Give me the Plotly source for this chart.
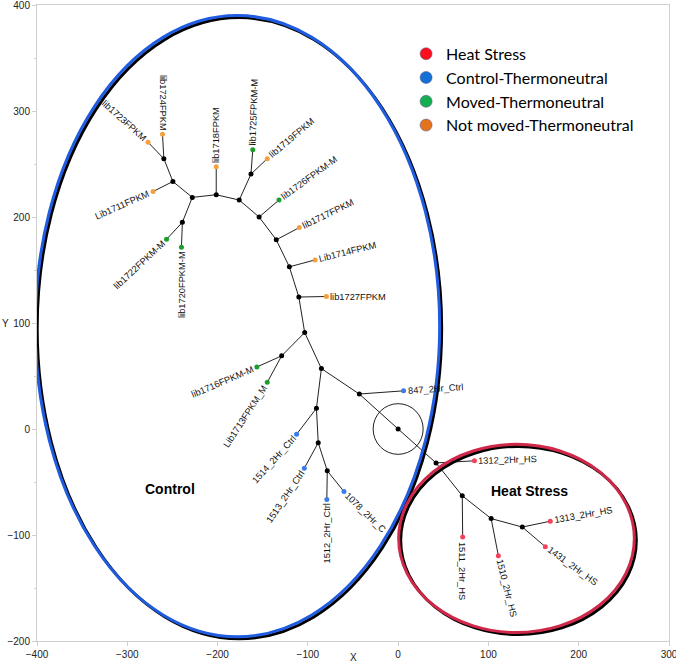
import math
import plotly.graph_objects as go

# ---------------- data ----------------
# internal (unlabelled) nodes of the unrooted tree
node_names = ["Q", "P", "U", "O", "L", "R", "N", "K", "J", "I", "H", "F", "G",
              "E", "C", "B", "A", "D", "S", "T", "V", "W", "X"]
node_x = [0, -43, 42, -85, -103.5, -90.5, -129, -110, -120.5, -135, -154, -176, -163,
          -201.5, -228, -249.5, -259.5, -239, -88.5, -78.5, 71, 103, 137.5]
node_y = [0, 33, -32, 57, 91, 19.5, 69, 124.5, 153, 178.5, 200, 216, 240.5,
          221, 218.5, 233.5, 255, 195, -13, -39.5, -63, -84.5, -92.5]
node_parent = [None, "Q", "Q", "P", "O", "O", "L", "L", "K", "J", "I", "H", "F",
               "F", "E", "C", "B", "C", "R", "S", "U", "V", "W"]

# leaves (samples)
leaf_labels = ["lib1723FPKM", "lib1724FPKM", "Lib1711FPKM", "lib1722FPKM-M", "lib1720FPKM-M",
               "lib1718FPKM", "lib1725FPKM-M", "lib1719FPKM", "lib1726FPKM-M", "lib1717FPKM",
               "Lib1714FPKM", "lib1727FPKM", "lib1716FPKM-M", "Lib1713FPKM_M", "847_2Hr_Ctrl",
               "1514_2Hr_Ctrl", "1513_2Hr_Ctrl", "1512_2Hr_Ctrl", "1078_2Hr_C",
               "1312_2Hr_HS", "1511_2Hr_HS", "1510_2Hr_HS", "1313_2Hr_HS", "1431_2Hr_HS"]
leaf_x = [-277, -261, -271.5, -256.5, -240, -201.5, -161, -145, -132, -109.5,
          -92, -79.5, -156.5, -145, 6, -112.5, -104, -79, -60,
          84.5, 71.5, 111, 168.5, 163]
leaf_y = [270.5, 278, 224, 179, 171.5, 247.5, 263.5, 255, 216, 190,
          159.5, 125, 58.5, 44, 36, -5, -37, -66.5, -59,
          -30, -102, -119.5, -87, -111]
leaf_parent = ["A", "A", "B", "D", "D", "E", "G", "G", "H", "I",
               "J", "K", "N", "N", "P", "R", "S", "T", "T",
               "U", "V", "W", "X", "X"]
leaf_group = ["NM", "NM", "NM", "M", "M", "NM", "M", "NM", "M", "NM",
              "NM", "NM", "M", "M", "C", "C", "C", "C", "C",
              "HS", "HS", "HS", "HS", "HS"]
# label text angle (deg, clockwise) and side (+1 text starts at leaf, -1 text ends at leaf)
leaf_angle = [42, 90, -24, -43, -90, -90, -88, -40, -36, -26,
              -14, 0, -23, -57, -4, -48, -56, -90, 44,
              -2, 90, 76, -10, 36]
leaf_side = [-1, -1, -1, -1, -1, 1, 1, 1, 1, 1,
             1, 1, -1, -1, 1, -1, -1, -1, 1,
             1, 1, 1, 1, 1]

legend_names = ["Heat Stress", "Control-Thermoneutral", "Moved-Thermoneutral", "Not moved-Thermoneutral"]
legend_colors = ["#fb0f1e", "#1470d4", "#14ad50", "#e5721c"]
group_colors = {"HS": "#f5425c", "C": "#3b7ce8", "M": "#1d9e2c", "NM": "#f4a03c"}

x_ticks = [-400, -300, -200, -100, 0, 100, 200, 300]
y_ticks = [-200, -100, 0, 100, 200, 300, 400]

# ---------------- build ----------------
pos = {n: (x, y) for n, x, y in zip(node_names, node_x, node_y)}

ex, ey = [], []
for n, p in zip(node_names, node_parent):
    if p is None:
        continue
    ex += [pos[p][0], pos[n][0], None]
    ey += [pos[p][1], pos[n][1], None]
for lx, ly, p in zip(leaf_x, leaf_y, leaf_parent):
    ex += [pos[p][0], lx, None]
    ey += [pos[p][1], ly, None]

fig = go.Figure()

fig.add_trace(go.Scatter(x=ex, y=ey, mode="lines", line=dict(color="#222", width=1),
                         hoverinfo="skip", showlegend=False))
fig.add_trace(go.Scatter(x=node_x, y=node_y, mode="markers",
                         marker=dict(color="black", size=5), showlegend=False))
fig.add_trace(go.Scatter(x=leaf_x, y=leaf_y, mode="markers", text=leaf_labels,
                         marker=dict(color=[group_colors[g] for g in leaf_group], size=5),
                         showlegend=False))

for name, col in zip(legend_names, legend_colors):
    fig.add_trace(go.Scatter(x=[None], y=[None], mode="markers", name=name,
                             marker=dict(color=col, size=12,
                                         line=dict(color="rgba(90,90,140,0.55)", width=1))))

# text width estimate (Arial-like metrics)
W = {}
for c in "0123456789_bdeghnopqu":
    W[c] = 0.556
W.update({"l": 0.222, "i": 0.222, "r": 0.333, "t": 0.278, "-": 0.333, "F": 0.611, "P": 0.667,
          "K": 0.667, "M": 0.833, "H": 0.722, "S": 0.667, "C": 0.722, "L": 0.556})
FS = 9.3


def tw(s):
    return sum(W.get(c, 0.6) for c in s) * FS


annotations = []
for lab, lx, ly, ang, side in zip(leaf_labels, leaf_x, leaf_y, leaf_angle, leaf_side):
    d = 4 + tw(lab) / 2
    a = math.radians(ang)
    annotations.append(dict(x=lx, y=ly, xref="x", yref="y", text=lab, showarrow=False,
                            textangle=ang, xanchor="center", yanchor="middle",
                            xshift=side * math.cos(a) * d, yshift=-side * math.sin(a) * d,
                            font=dict(family="Liberation Sans, Arial", size=FS, color="#111")))

annotations.append(dict(x=-253, y=-57, xref="x", yref="y", text="<b>Control</b>", showarrow=False,
                        font=dict(family="Liberation Sans, Arial", size=14, color="black")))
annotations.append(dict(x=146, y=-58.5, xref="x", yref="y", text="<b>Heat Stress</b>", showarrow=False,
                        font=dict(family="Liberation Sans, Arial", size=14, color="black")))
annotations.append(dict(x=0.5, y=-0.026, xref="paper", yref="paper", text="X", showarrow=False,
                        yanchor="middle", font=dict(family="Liberation Sans, Arial", size=10, color="#222")))
annotations.append(dict(x=-0.05, y=0.5, xref="paper", yref="paper", text="Y", showarrow=False,
                        xanchor="center", yanchor="middle",
                        font=dict(family="Liberation Sans, Arial", size=10, color="#222")))

# groups ellipses with shadow (shadow offset ~2px right/down)
dx_s, dy_s = 2.2, -1.9
shapes = []
for (x0, x1, y0, y1, col) in [(-402, 46, -196, 390, "#1f5ce0"), (0.6, 261.6, -192, -14.5, "#d0284a")]:
    shapes.append(dict(type="circle", xref="x", yref="y", x0=x0 + dx_s, x1=x1 + dx_s,
                       y0=y0 + dy_s, y1=y1 + dy_s, line=dict(color="black", width=3)))
    shapes.append(dict(type="circle", xref="x", yref="y", x0=x0, x1=x1, y0=y0, y1=y1,
                       line=dict(color=col, width=3)))
# small circle around the root
shapes.append(dict(type="circle", xref="x", yref="y", x0=-27.7, x1=27.7, y0=-23.9, y1=23.9,
                   line=dict(color="#222", width=1)))

axis_common = dict(showgrid=False, zeroline=False, showline=True, linecolor="#cfcfcf", linewidth=1,
                   mirror=True, ticks="outside", ticklen=4, tickcolor="#cfcfcf", automargin=False,
                   ticklabeloverflow="allow",
                   tickfont=dict(family="Liberation Sans, Arial", size=10, color="#222"))

fig.update_layout(
    width=676, height=666,
    margin=dict(l=37, r=7, t=5, b=25),
    paper_bgcolor="white", plot_bgcolor="white",
    xaxis=dict(range=[-400, 300], tickvals=x_ticks, **axis_common),
    yaxis=dict(range=[-200, 400], tickvals=y_ticks,
               minor=dict(dtick=50, ticks="outside", ticklen=2, tickcolor="#cfcfcf"), **axis_common),
    shapes=shapes,
    annotations=annotations,
    legend=dict(x=0.584, y=0.95, xanchor="left", yanchor="top", bgcolor="rgba(0,0,0,0)",
                font=dict(family="Lato", size=16, color="black"), itemsizing="trace"),
    hovermode="closest",
)

fig.write_html("out.html", config={"displayModeBar": False},
               post_script="document.body.style.margin='0';")
